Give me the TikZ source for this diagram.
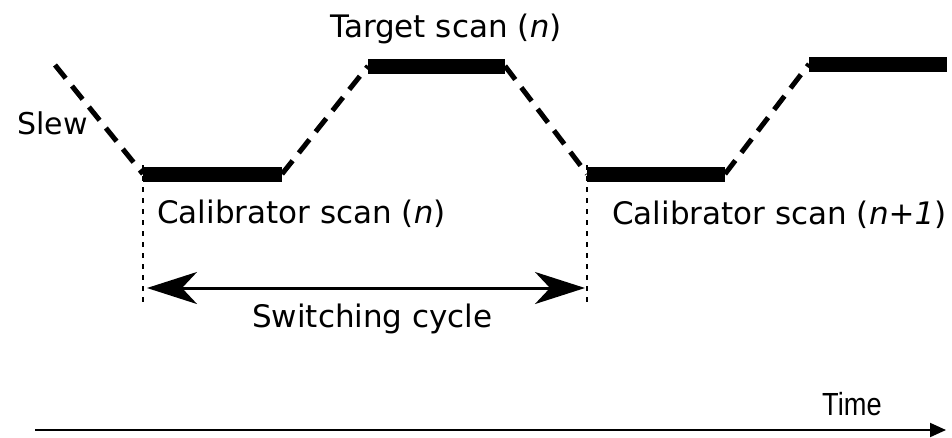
\documentclass[tikz,border=0pt]{standalone}
\usepackage{fontspec}
\setmainfont{DejaVu Sans}
\newfontfamily\timefont[FakeStretch=0.85]{Liberation Sans}
\usetikzlibrary{arrows.meta}
\begin{document}
\begin{tikzpicture}[x=1pt,y=-1pt,
  scanbar/.style={line width=15pt},
  slewline/.style={line width=5pt, dash pattern=on 17pt off 10pt},
  guide/.style={line width=1.4pt, dash pattern=on 5pt off 6pt},
  lbl/.style={font=\fontsize{31}{33}\selectfont, inner sep=0pt, anchor=base west},
  span/.style={line width=3pt, {Stealth[length=50pt,width=32pt,inset=15pt]}-{Stealth[length=50pt,width=32pt,inset=15pt]}},
  axis/.style={line width=2pt, -{Triangle[length=16pt,width=14pt]}},
]
\useasboundingbox (0,0) rectangle (952,437);

% scan end points
\coordinate (s0)  at (55,65);
\coordinate (c1a) at (143,174);
\coordinate (c1b) at (282,174);
\coordinate (t1a) at (368,66);
\coordinate (t1b) at (505,66);
\coordinate (c2a) at (587,174);
\coordinate (c2b) at (725,174);
\coordinate (t2a) at (809,64);
\coordinate (t2b) at (947,64);

% on-source scans
\draw[scanbar] (c1a) -- (c1b);
\draw[scanbar] (t1a) -- (t1b);
\draw[scanbar] (c2a) -- (c2b);
\draw[scanbar] (t2a) -- (t2b);

% slews between sources
\draw[slewline] (s0) -- (c1a);
\draw[slewline] (c1b) -- (t1a);
\draw[slewline] (t1b) -- (c2a);
\draw[slewline] (c2b) -- (t2a);

% switching cycle markers
\coordinate (g1) at (143,302);
\coordinate (g2) at (587,302);
\draw[guide] ([yshift=9pt]c1a) -- (g1);
\draw[guide] ([yshift=9pt]c2a) -- (g2);
\coordinate (w1) at (147,288);
\coordinate (w2) at (585,288);
\draw[span] (w1) -- (w2);

% time axis
\coordinate (ax0) at (35,430);
\coordinate (ax1) at (946,430);
\draw[axis] (ax0) -- (ax1);

% labels
\node[lbl, font=\fontsize{30}{32}\selectfont] (slew) at (17,134) {Slew};
\node[lbl] (tgt) at (330,37) {Target scan (\textit{n})};
\node[lbl] (cal1) at (157,223) {Calibrator scan (\textit{n})};
\node[lbl] (cal2) at (612,224) {Calibrator scan (\textit{n+1})};
\node[lbl] (cyc) at (252,327) {Switching cycle};
\node[inner sep=0pt, anchor=base west, font=\timefont\fontsize{32}{34}\selectfont] (time) at (822,415) {Time};
\end{tikzpicture}
\end{document}
